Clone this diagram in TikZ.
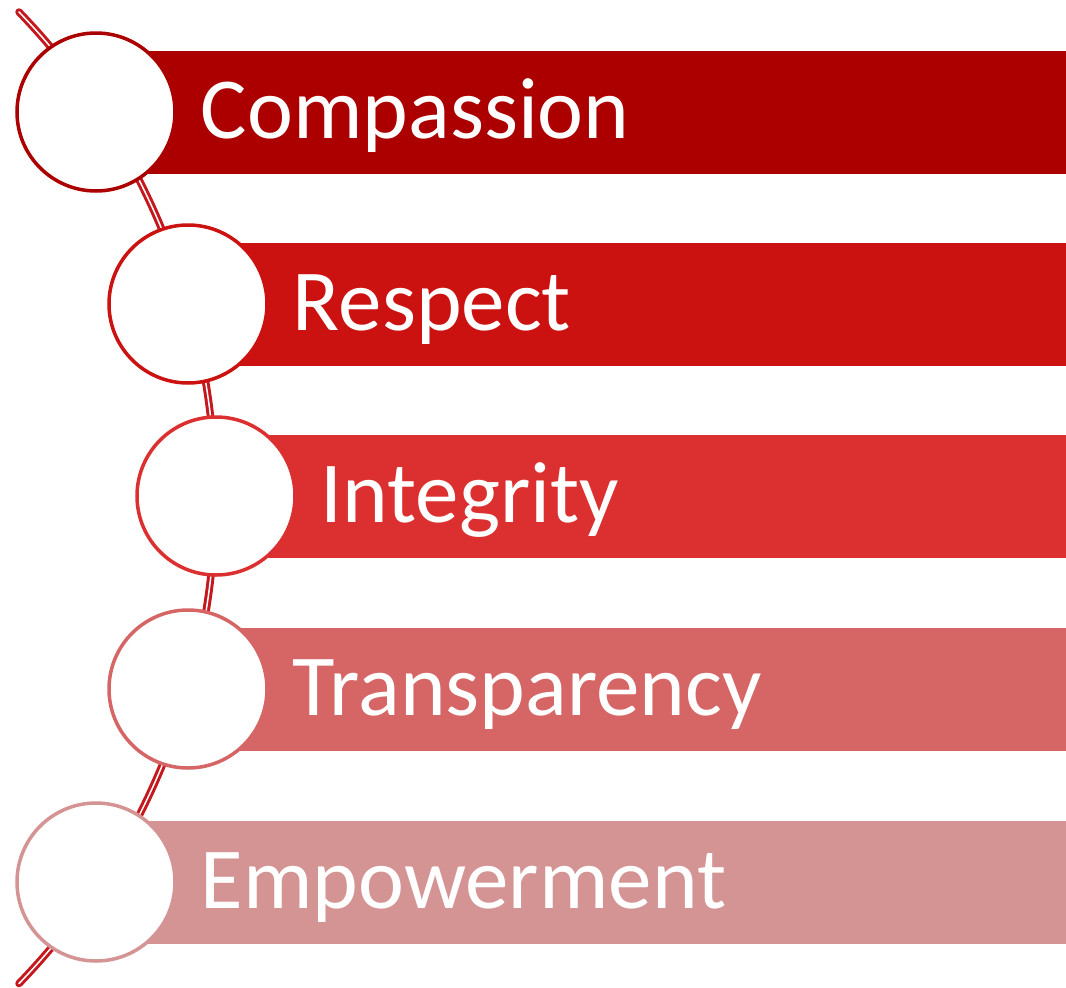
\documentclass[tikz,border=0pt]{standalone}
\usepackage{fontspec}
\setmainfont{Carlito}
\usepackage{xcolor}
\usetikzlibrary{positioning,calc}
\definecolor{valueA}{RGB}{172,0,0}
\definecolor{valueB}{RGB}{204,17,17}
\definecolor{valueC}{RGB}{220,48,48}
\definecolor{valueD}{RGB}{214,102,102}
\definecolor{valueE}{RGB}{212,148,148}
\definecolor{spine}{RGB}{196,24,30}

\begin{document}
\begin{tikzpicture}[x=1pt,y=1pt,
	bead/.style={circle,draw,line width=3.5pt,fill=white,minimum size=158pt,inner sep=0pt},
	band/.style={rectangle,inner sep=0pt,minimum height=123pt,anchor=west},
	word/.style={inner sep=0pt,text=white,font=\fontsize{87}{100}\selectfont,
		text height=60pt,text depth=8pt,anchor=west}]

    \useasboundingbox (0,0) rectangle (1066,-988);

    % the curved spine behind everything
    \coordinate (top) at (19,-12);
    \draw[spine,line width=3pt,double=white,double distance=1.5pt,line cap=round]
	(top) arc[start angle=44,end angle=-44,radius=699.3];

    \coordinate (p1) at (96,-112);
    \coordinate (p2) at (188,-304);
    \coordinate (p3) at (216,-496);
    \coordinate (p4) at (188,-689);
    \coordinate (p5) at (96,-882);

    \node[band,fill=valueA,minimum width=970pt] (B1) at (p1) {};
    \node[band,fill=valueB,minimum width=878pt] (B2) at (p2) {};
    \node[band,fill=valueC,minimum width=850pt] (B3) at (p3) {};
    \node[band,fill=valueD,minimum width=878pt] (B4) at (p4) {};
    \node[band,fill=valueE,minimum width=970pt] (B5) at (p5) {};

    \node[bead,draw=valueA] (C1) at (p1) {};
    \node[bead,draw=valueB] (C2) at (p2) {};
    \node[bead,draw=valueC] (C3) at (p3) {};
    \node[bead,draw=valueD] (C4) at (p4) {};
    \node[bead,draw=valueE] (C5) at (p5) {};

    \node[word] (L1) [right = 24pt of C1.east] {Compassion};
    \node[word] (L2) [right = 24pt of C2.east] {Respect};
    \node[word] (L3) [right = 24pt of C3.east] {Integrity};
    \node[word] (L4) [right = 24pt of C4.east] {Transparency};
    \node[word] (L5) [right = 24pt of C5.east] {Empowerment};

\end{tikzpicture}
\end{document}
